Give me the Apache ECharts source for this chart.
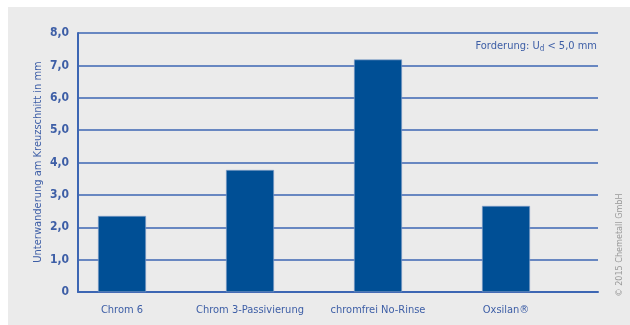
<!DOCTYPE html>
<html><head><meta charset="utf-8">
<script src="https://cdn.jsdelivr.net/npm/echarts@6/dist/echarts.min.js"></script>
<style>html,body{margin:0;padding:0;background:#fff}#c{width:630px;height:325px}</style>
</head><body><div id="c"></div>
<script>
const categories = ['Chrom 6', 'Chrom 3-Passivierung', 'chromfrei No-Rinse', 'Oxsilan®'];
const values = [2.35, 3.77, 7.18, 2.66];
const yTicks = [0, 1, 2, 3, 4, 5, 6, 7, 8];
const yAxisTitle = 'Unterwanderung am Kreuzschnitt in mm';
const copyright = '© 2015 Chemetall GmbH';

const txt = '#3d5ea6';
const lineC = '#3d66b3';
const font = '"Liberation Sans Narrow", "Arial Narrow", "DejaVu Sans Condensed", sans-serif';
const chart = echarts.init(document.getElementById('c'));
chart.setOption({
  backgroundColor: '#fff',
  animation: false,
  graphic: [
    {type: 'rect', shape: {x: 8, y: 7, width: 622, height: 318}, style: {fill: '#ebebeb'}, z: -10, silent: true},
    {type: 'text', x: 38, y: 162, rotation: Math.PI / 2,
     style: {text: yAxisTitle, fill: txt, font: '11px ' + font, align: 'center', verticalAlign: 'middle'}},
    {type: 'text', right: 33, top: 41,
     style: {text: '{a|Forderung: U}{s|d}{a| < 5,0 mm}', rich: {
       a: {fill: txt, font: '11px ' + font},
       s: {fill: txt, font: '8px ' + font, padding: [5, 0, 0, 0]}
     }}},
    {type: 'text', x: 620, y: 245, rotation: Math.PI / 2,
     style: {text: copyright, fill: '#9a9a9a', font: '9px ' + font, align: 'center', verticalAlign: 'middle'}}
  ],
  grid: [
    {left: 78, right: 32, top: 33, bottom: 33},
    {left: 58, width: 512, top: 33, bottom: 33}
  ],
  xAxis: [
    {type: 'category', gridIndex: 0, data: categories, axisLine: {lineStyle: {color: lineC, width: 2}},
     axisTick: {show: false}, axisLabel: {show: false}},
    {type: 'category', gridIndex: 1, data: categories, axisLine: {show: false}, axisTick: {show: false},
     axisLabel: {interval: 0, color: txt, fontFamily: font, fontSize: 11, margin: 13}}
  ],
  yAxis: [
    {type: 'value', gridIndex: 0, min: 0, max: 8, interval: 1,
     axisLine: {show: true, lineStyle: {color: lineC, width: 2}}, axisTick: {show: false},
     splitLine: {lineStyle: {color: lineC, width: 1.5}},
     axisLabel: {color: txt, fontFamily: font, fontSize: 12, fontWeight: 'bold', margin: 9,
       formatter: v => v === 0 ? '0' : v.toFixed(1).replace('.', ',')}},
    {type: 'value', gridIndex: 1, min: 0, max: 8, interval: 1, show: false}
  ],
  series: [{
    type: 'bar', xAxisIndex: 1, yAxisIndex: 1, data: values, barWidth: 48,
    itemStyle: {color: '#004f95', borderColor: '#8fa6cf', borderWidth: 0.6}
  }]
});
</script></body></html>
